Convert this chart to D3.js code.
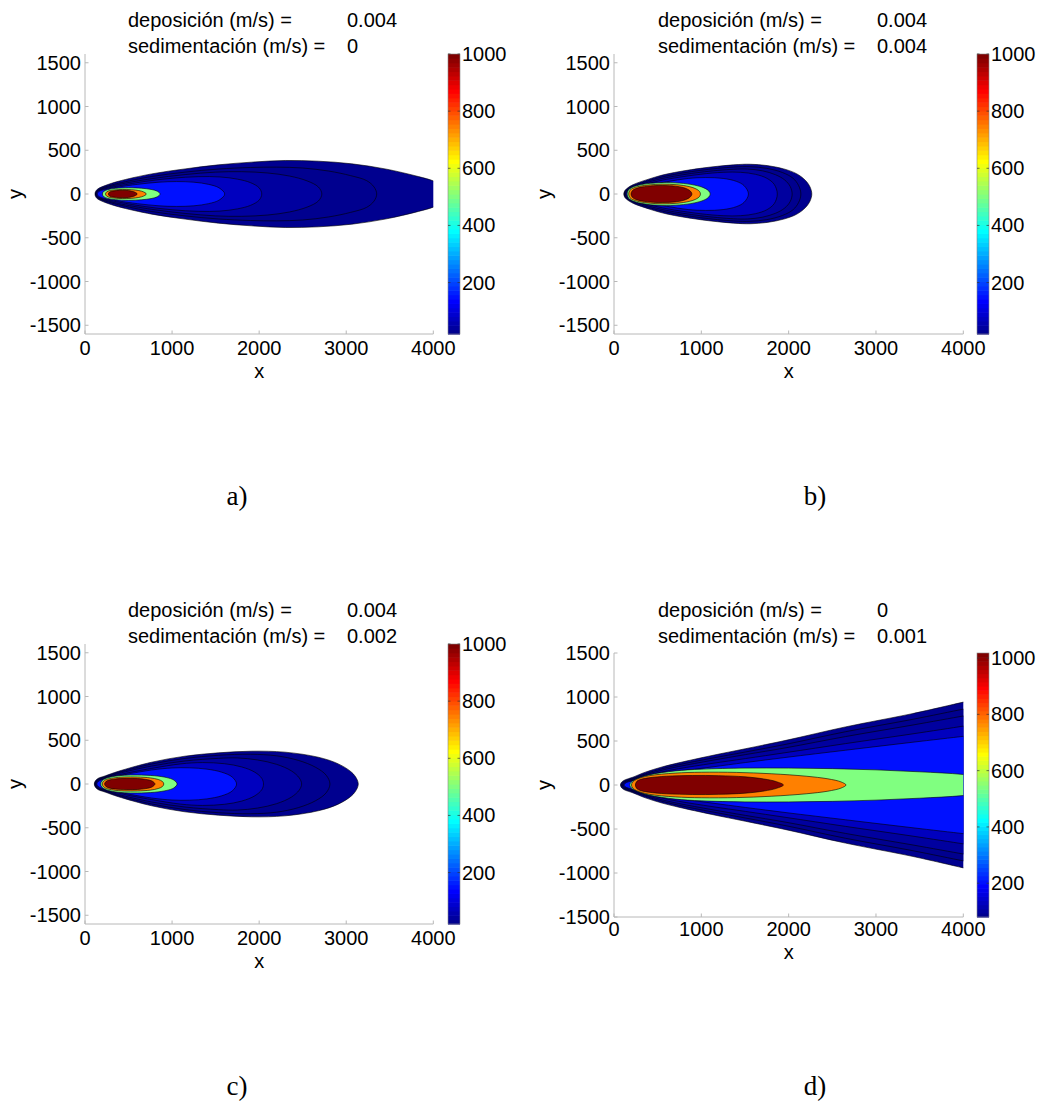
<!DOCTYPE html>
<html><head><meta charset="utf-8">
<script src="https://cdn.jsdelivr.net/npm/d3@7"></script>
<style>
body{margin:0;background:#fff}
svg{display:block}
text{font-family:"Liberation Sans",Arial,Helvetica,sans-serif;fill:#000}
.cap{font-family:"Liberation Serif","Times New Roman",serif}
</style>
</head><body>
<svg id="chart" width="1045" height="1102"></svg>
<script>
// ---------------- data ----------------
const xTicks = [0, 1000, 2000, 3000, 4000];
const yTicks = [-1500, -1000, -500, 0, 500, 1000, 1500];
const cbarTicks = [200, 400, 600, 800, 1000];
// contour levels (concentration) and colour-axis ranges per panel
const levelsABC = [20, 30, 40, 80, 150, 500, 750, 1000];
const levelsD = [80, 85, 100, 130, 200, 540, 775, 1010];
const cRangeABC = [20, 1000];
const cRangeD = [80, 1018];
const panelLabels = ["a)", "b)", "c)", "d)"];
const depLabel = "deposición (m/s) =";
const sedLabel = "sedimentación (m/s) =";
const deposition = ["0.004", "0.004", "0.004", "0"];
const sedimentation = ["0", "0.004", "0.002", "0.001"];
const yDomains = [[-1600, 1600], [-1600, 1600], [-1600, 1600], [-1500, 1500]];
const xDomain = [0, 4000];

// contour outlines: [x, half-width] along the upper half, one list per level
const plumeA = [
  [[115,0],[125,35],[150,60],[230,96],[383,145],[766,230],[1150,287],[1531,333],[1915,364],[2300,383],[2680,375],[3064,345],[3446,287],[3830,199],[4000,150],[4150,80],[4220,0]],
  [[120,0],[135,33],[170,58],[240,84],[383,122],[766,200],[1150,250],[1531,285],[1900,303],[2200,307],[2500,297],[2800,262],[3050,210],[3234,153],[3320,80],[3350,0]],
  [[125,0],[140,30],[175,52],[250,76],[383,108],[766,175],[1150,222],[1500,250],[1800,255],[2100,240],[2350,205],[2550,150],[2680,80],[2720,0]],
  [[130,0],[145,28],[180,48],[260,68],[400,95],[700,145],[1000,180],[1300,198],[1550,195],[1750,170],[1900,130],[2000,70],[2030,0]],
  [[140,0],[155,25],[190,42],[270,60],[400,82],[600,110],[850,135],[1050,142],[1250,135],[1420,110],[1540,70],[1605,0]],
  [[200,0],[215,30],[260,50],[350,65],[500,72],[650,66],[760,52],[830,32],[862,0]],
  [[235,0],[250,25],[290,40],[380,50],[480,52],[580,45],[650,32],[690,15],[705,0]],
  [[268,0],[282,22],[320,34],[400,42],[470,42],[530,34],[575,20],[600,0]]
];
const plumeB = [
  [[112,0],[125,40],[160,72],[222,108],[413,175],[605,228],[987,293],[1370,333],[1561,340],[1753,325],[1944,287],[2090,232],[2190,158],[2245,80],[2265,0]],
  [[118,0],[132,36],[165,65],[230,97],[413,158],[605,207],[987,270],[1370,308],[1560,312],[1750,293],[1930,245],[2050,180],[2115,95],[2140,0]],
  [[124,0],[138,32],[170,58],[240,87],[413,142],[605,188],[987,248],[1370,283],[1530,285],[1700,265],[1850,220],[1955,160],[2018,85],[2040,0]],
  [[130,0],[145,30],[178,52],[250,78],[413,125],[605,168],[987,225],[1250,248],[1450,248],[1620,225],[1750,180],[1835,110],[1870,0]],
  [[138,0],[152,26],[185,45],[260,68],[413,102],[605,140],[850,178],[1050,188],[1250,178],[1400,145],[1490,95],[1540,0]],
  [[150,0],[165,45],[200,72],[280,100],[413,122],[550,130],[750,125],[920,102],[1030,70],[1085,35],[1102,0]],
  [[168,0],[182,42],[215,65],[290,88],[413,105],[550,112],[720,106],[860,85],[940,58],[980,28],[990,0]],
  [[195,0],[210,38],[245,60],[320,80],[450,95],[560,97],[700,90],[800,72],[860,45],[885,20],[892,0]]
];
const plumeC = [
  [[107,0],[120,38],[150,64],[230,92],[383,145],[765,249],[1148,318],[1531,356],[1914,375],[2296,364],[2679,306],[2909,230],[3062,134],[3120,60],[3138,0]],
  [[113,0],[127,35],[157,60],[240,86],[383,132],[765,228],[1148,292],[1531,328],[1900,340],[2200,322],[2450,270],[2650,190],[2770,100],[2813,0]],
  [[120,0],[134,32],[165,55],[250,80],[383,120],[765,205],[1148,263],[1531,293],[1750,298],[1980,275],[2200,225],[2370,150],[2460,70],[2488,0]],
  [[127,0],[141,29],[172,50],[260,73],[400,108],[765,178],[1100,230],[1350,245],[1600,232],[1800,195],[1950,135],[2030,65],[2050,0]],
  [[135,0],[149,26],[182,45],[270,67],[413,98],[765,160],[1000,183],[1200,185],[1400,170],[1570,135],[1690,80],[1741,0]],
  [[180,0],[195,38],[230,60],[320,85],[450,100],[600,103],[800,94],[940,73],[1020,45],[1058,0]],
  [[198,0],[212,33],[245,52],[330,70],[450,80],[600,80],[750,70],[840,52],[890,28],[905,0]],
  [[225,0],[240,28],[275,45],[350,58],[480,65],[600,63],[700,52],[770,34],[804,0]]
];
const plumeD = [
  [[73,0],[90,35],[130,60],[206,85],[359,146],[550,205],[741,252],[1122,335],[1504,412],[1981,510],[2650,660],[3413,810],[4000,942],[4100,965]],
  [[85,0],[100,30],[140,52],[206,72],[359,128],[550,185],[741,230],[1122,305],[1504,375],[1981,465],[2650,605],[3413,745],[4000,862],[4100,880]],
  [[95,0],[110,27],[150,47],[215,65],[359,115],[550,168],[741,210],[1122,280],[1504,345],[1981,425],[2650,550],[3413,680],[4000,784],[4100,800]],
  [[105,0],[120,24],[160,42],[225,58],[359,100],[550,148],[741,185],[1122,245],[1504,300],[1981,370],[2650,470],[3413,580],[4000,669],[4100,685]],
  [[115,0],[130,21],[170,37],[235,52],[359,85],[550,125],[741,155],[1122,205],[1504,255],[1981,315],[2650,395],[3413,485],[4000,553],[4100,565]],
  [[180,0],[195,30],[240,60],[400,115],[700,160],[1000,180],[1500,192],[2000,192],[2500,186],[3000,172],[3500,150],[4000,120],[4400,70],[4600,0]],
  [[200,0],[215,35],[260,65],[400,105],[700,135],[1000,145],[1400,143],[1800,128],[2200,100],[2450,70],[2600,35],[2657,0]],
  [[245,0],[260,40],[300,62],[400,82],[600,100],[900,108],[1200,106],[1500,93],[1720,68],[1860,38],[1940,0]]
];
const plumes = [plumeA, plumeB, plumeC, plumeD];
const panelLevels = [levelsABC, levelsABC, levelsABC, levelsD];
const panelCRange = [cRangeABC, cRangeABC, cRangeABC, cRangeD];

// ---------------- layout (px) ----------------
const layout = [
  {l:85,  r:433.3, t:54,  b:334, cb:448, tx:128, vx:347, hy:27,  cx:237, cy:505, tl:21, xl:44},
  {l:614, r:963.3, t:54,  b:334, cb:977, tx:658, vx:877, hy:27,  cx:815, cy:505, tl:21, xl:44},
  {l:85,  r:433.3, t:644, b:924, cb:448, tx:128, vx:347, hy:617, cx:237, cy:1095, tl:21, xl:44},
  {l:614, r:963.3, t:653, b:917, cb:977, tx:658, vx:877, hy:617, cx:815, cy:1095, tl:19, xl:42}
];

// MATLAB jet(64)
function jetRow(row) {
  const u = k => (k < 1 || k > 47) ? 0 : (k <= 16 ? k / 16 : (k <= 31 ? 1 : (48 - k) / 16));
  const r = u(row - 24), g = u(row - 8), b = u(row + 8);
  return d3.rgb(Math.round(r * 255), Math.round(g * 255), Math.round(b * 255)).formatHex();
}
function levelColor(v, lo, hi) {
  let idx = Math.floor((v - lo) / (hi - lo) * 64) + 1;
  idx = Math.max(1, Math.min(64, idx));
  return jetRow(idx);
}

const svg = d3.select("#chart");
const FS = 20;

layout.forEach((L, p) => {
  const g = svg.append("g");
  const xs = d3.scaleLinear().domain(xDomain).range([L.l, L.r]);
  const ys = d3.scaleLinear().domain(yDomains[p]).range([L.b, L.t]);
  const cR = panelCRange[p];
  const lv = panelLevels[p];

  const clipId = "clip" + p;
  svg.append("clipPath").attr("id", clipId).append("rect")
    .attr("x", L.l).attr("y", L.t).attr("width", L.r - L.l).attr("height", L.b - L.t);

  // filled contours
  const line = d3.line().x(d => xs(d[0])).y(d => ys(d[1])).curve(d3.curveCatmullRomClosed.alpha(0.5));
  const cg = g.append("g").attr("clip-path", `url(#${clipId})`);
  plumes[p].forEach((pts, i) => {
    const lower = pts.filter(q => q[1] !== 0).slice().reverse().map(q => [q[0], -q[1]]);
    const ring = pts.concat(lower);
    cg.append("path").attr("d", line(ring))
      .attr("fill", levelColor(lv[i], cR[0], cR[1]))
      .attr("stroke", "#000").attr("stroke-width", 0.7).attr("stroke-opacity", 0.85);
  });

  // axes lines
  const axCol = "#b8b8b8";
  g.append("line").attr("x1", L.l).attr("x2", L.l).attr("y1", L.t).attr("y2", L.b).attr("stroke", axCol);
  g.append("line").attr("x1", L.l).attr("x2", L.r).attr("y1", L.b).attr("y2", L.b).attr("stroke", axCol);

  // x ticks
  xTicks.forEach(v => {
    g.append("line").attr("x1", xs(v)).attr("x2", xs(v)).attr("y1", L.b).attr("y2", L.b - 3.5).attr("stroke", axCol);
    g.append("text").attr("x", xs(v)).attr("y", L.b + L.tl).attr("text-anchor", "middle")
      .attr("font-size", FS).text(v);
  });
  // y ticks
  yTicks.forEach(v => {
    g.append("line").attr("x1", L.l).attr("x2", L.l + 3.5).attr("y1", ys(v)).attr("y2", ys(v)).attr("stroke", axCol);
    g.append("text").attr("x", L.l - 4).attr("y", ys(v)).attr("dy", "0.35em").attr("text-anchor", "end")
      .attr("font-size", FS).text(v);
  });
  // axis labels
  g.append("text").attr("x", (L.l + L.r) / 2).attr("y", L.b + L.xl).attr("text-anchor", "middle")
    .attr("font-size", FS).text("x");
  g.append("text").attr("transform", `translate(${L.l - 63},${ys(0)}) rotate(-90)`).attr("text-anchor", "middle")
    .attr("font-size", FS).text("y");

  // header
  g.append("text").attr("x", L.tx).attr("y", L.hy).attr("font-size", FS).text(depLabel);
  g.append("text").attr("x", L.vx).attr("y", L.hy).attr("font-size", FS).text(deposition[p]);
  g.append("text").attr("x", L.tx).attr("y", L.hy + 26).attr("font-size", FS).text(sedLabel);
  g.append("text").attr("x", L.vx).attr("y", L.hy + 26).attr("font-size", FS).text(sedimentation[p]);

  // colorbar
  const cs = d3.scaleLinear().domain(cR).range([L.b, L.t]);
  const cbW = 12;
  const rows = d3.range(1, 65);
  g.append("g").selectAll("rect").data(rows).join("rect")
    .attr("x", L.cb).attr("width", cbW)
    .attr("y", r => cs(cR[0] + r * (cR[1] - cR[0]) / 64))
    .attr("height", (L.b - L.t) / 64 + 0.6)
    .attr("fill", r => jetRow(r));
  g.append("rect").attr("x", L.cb).attr("y", L.t).attr("width", cbW).attr("height", L.b - L.t)
    .attr("fill", "none").attr("stroke", "#888").attr("stroke-width", 0.6);
  cbarTicks.forEach(v => {
    g.append("line").attr("x1", L.cb).attr("x2", L.cb + 2.5).attr("y1", cs(v)).attr("y2", cs(v)).attr("stroke", "#333").attr("stroke-width", 0.7);
    g.append("line").attr("x1", L.cb + cbW - 2.5).attr("x2", L.cb + cbW).attr("y1", cs(v)).attr("y2", cs(v)).attr("stroke", "#333").attr("stroke-width", 0.7);
    g.append("text").attr("x", L.cb + cbW + 2).attr("y", cs(v)).attr("dy", "0.35em")
      .attr("font-size", FS).text(v);
  });

  // caption
  g.append("text").attr("class", "cap").attr("x", L.cx).attr("y", L.cy).attr("text-anchor", "middle")
    .attr("font-size", 27).text(panelLabels[p]);
});
</script>
</body></html>
